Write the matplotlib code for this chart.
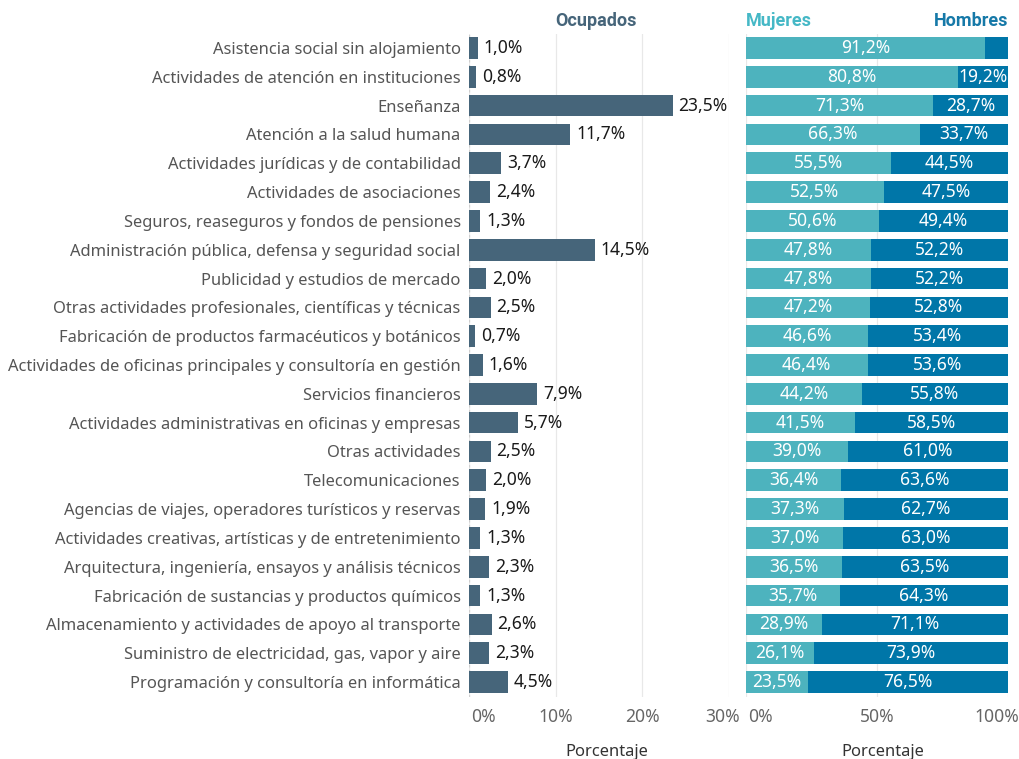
import matplotlib
matplotlib.use("Agg")
import matplotlib.pyplot as plt
from matplotlib.transforms import ScaledTranslation
import numpy as np

plt.rcParams['font.family'] = ['Noto Sans', 'DejaVu Sans']

categories = [
    "Asistencia social sin alojamiento",
    "Actividades de atención en instituciones",
    "Enseñanza",
    "Atención a la salud humana",
    "Actividades jurídicas y de contabilidad",
    "Actividades de asociaciones",
    "Seguros, reaseguros y fondos de pensiones",
    "Administración pública, defensa y seguridad social",
    "Publicidad y estudios de mercado",
    "Otras actividades profesionales, científicas y técnicas",
    "Fabricación de productos farmacéuticos y botánicos",
    "Actividades de oficinas principales y consultoría en gestión",
    "Servicios financieros",
    "Actividades administrativas en oficinas y empresas",
    "Otras actividades",
    "Telecomunicaciones",
    "Agencias de viajes, operadores turísticos y reservas",
    "Actividades creativas, artísticas y de entretenimiento",
    "Arquitectura, ingeniería, ensayos y análisis técnicos",
    "Fabricación de sustancias y productos químicos",
    "Almacenamiento y actividades de apoyo al transporte",
    "Suministro de electricidad, gas, vapor y aire",
    "Programación y consultoría en informática",
]
ocupados = [1.0, 0.8, 23.5, 11.7, 3.7, 2.4, 1.3, 14.5, 2.0, 2.5, 0.7, 1.6, 7.9,
            5.7, 2.5, 2.0, 1.9, 1.3, 2.3, 1.3, 2.6, 2.3, 4.5]
mujeres = [91.2, 80.8, 71.3, 66.3, 55.5, 52.5, 50.6, 47.8, 47.8, 47.2, 46.6, 46.4,
           44.2, 41.5, 39.0, 36.4, 37.3, 37.0, 36.5, 35.7, 28.9, 26.1, 23.5]
hombres = [8.8, 19.2, 28.7, 33.7, 44.5, 47.5, 49.4, 52.2, 52.2, 52.8, 53.4, 53.6,
           55.8, 58.5, 61.0, 63.6, 62.7, 63.0, 63.5, 64.3, 71.1, 73.9, 76.5]
left_ticks = [0, 10, 20, 30]
left_ticklabels = ["0%", "10%", "20%", "30%"]
right_ticks = [0, 50, 100]
right_ticklabels = ["0%", "50%", "100%"]

C_OCU = "#46657a"
C_MUJ = "#4db3be"
C_HOM = "#0076a8"
C_MUJ_T = "#45b8c6"
C_HOM_T = "#1679a8"
GRID = "#e8e8e8"

W, H = 1020, 759
fig = plt.figure(figsize=(W / 100, H / 100), dpi=100)

def ax_rect(x0, x1, y0, y1):
    return [x0 / W, 1 - y1 / H, (x1 - x0) / W, (y1 - y0) / H]

ax1 = fig.add_axes(ax_rect(469, 729, 33.5, 696.5))
ax2 = fig.add_axes(ax_rect(746, 1008, 33.5, 696.5))

y = np.arange(len(categories))
bh = 0.75
FS = 11.9
FV = 12.6
FH = 13.0
HEAD_FONT = ['Roboto', 'Lato', 'DejaVu Sans']

# Left panel
ax1.barh(y, ocupados, height=bh, color=C_OCU, zorder=3)
for yi, v in zip(y, ocupados):
    ax1.annotate(f"{v:.1f}%".replace(".", ","), (v, yi), xytext=(4.2, 0),
                 textcoords="offset points", va="center", ha="left",
                 fontsize=FV, color="#1a1a1a", zorder=4)
ax1.set_xlim(0, 30)
ax1.set_ylim(len(categories) - 0.5, -0.5)
ax1.set_yticks(y)
ax1.set_yticklabels(categories, fontsize=FS, color="#555555")
ax1.set_xticks(left_ticks)
ax1.set_xticklabels(left_ticklabels)
ax1.axvline(0, color="#cfcfcf", lw=0.9, ls=(0, (2, 2)), zorder=2)

# Right panel
ax2.barh(y, mujeres, height=bh, color=C_MUJ, zorder=3)
ax2.barh(y, hombres, left=mujeres, height=bh, color=C_HOM, zorder=3)
for yi, m, h in zip(y, mujeres, hombres):
    ax2.text(m / 2, yi, f"{m:.1f}%".replace(".", ","), ha="center", va="center",
             fontsize=FV, color="white", zorder=4)
    if h >= 10:
        ax2.text(m + h / 2, yi, f"{h:.1f}%".replace(".", ","), ha="center",
                 va="center", fontsize=FV, color="white", zorder=4)
ax2.set_xlim(0, 100)
ax2.set_ylim(len(categories) - 0.5, -0.5)
ax2.set_yticks([])
ax2.set_xticks(right_ticks)
ax2.set_xticklabels(right_ticklabels)

for ax in (ax1, ax2):
    for s in ax.spines.values():
        s.set_visible(False)
    ax.grid(axis="x", color=GRID, lw=0.9, zorder=0)
    ax.set_axisbelow(True)
    ax.tick_params(axis="x", length=0, pad=8, labelsize=FV, labelcolor="#666666")
    ax.tick_params(axis="y", length=0, pad=6)
    ax.set_xlabel("Porcentaje", fontsize=FS, color="#333333", labelpad=13)
    labs = ax.get_xticklabels()
    labs[0].set_ha("left")
    labs[0].set_transform(labs[0].get_transform() + ScaledTranslation(2.5 / 100, 0, fig.dpi_scale_trans))
    labs[-1].set_ha("right")
    labs[-1].set_transform(labs[-1].get_transform() + ScaledTranslation(11 / 100, 0, fig.dpi_scale_trans))
ax1.xaxis.label.set_x((607 - 469) / (729 - 469))
ax2.xaxis.label.set_x((883 - 746) / (1008 - 746))

# Headers
fig.text(596 / W, 1 - 20.5 / H, "Ocupados", ha="center", va="center",
         fontsize=FH, fontweight="bold", color=C_OCU, family=HEAD_FONT)
fig.text(746 / W, 1 - 20.5 / H, "Mujeres", ha="left", va="center",
         fontsize=FH, fontweight="bold", color=C_MUJ_T, family=HEAD_FONT)
fig.text(1008 / W, 1 - 20.5 / H, "Hombres", ha="right", va="center",
         fontsize=FH, fontweight="bold", color=C_HOM_T, family=HEAD_FONT)

fig.savefig("out.png", dpi=100)
